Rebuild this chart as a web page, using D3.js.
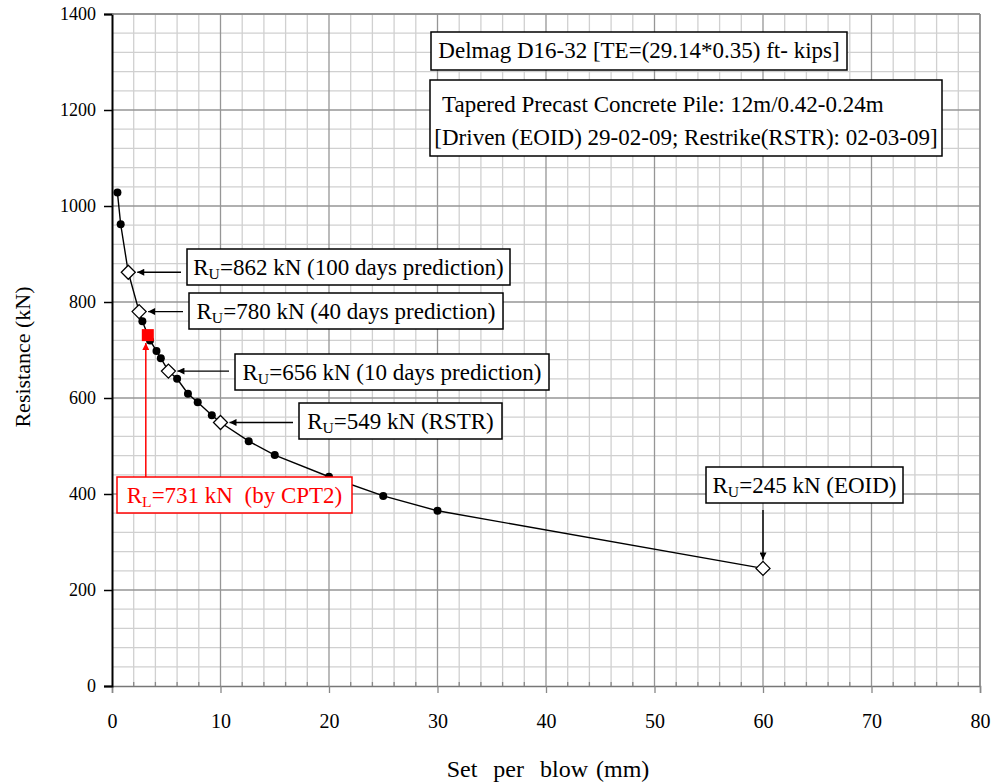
<!DOCTYPE html>
<html>
<head>
<meta charset="utf-8">
<script src="https://cdn.jsdelivr.net/npm/d3@7"></script>
<style>
  html, body { margin: 0; padding: 0; background: #fff; }
  svg { display: block; font-family: "Liberation Serif", "Times New Roman", serif; }
  svg text { font-family: "Liberation Serif", "Times New Roman", serif; }
</style>
</head>
<body>
<svg id="chart" width="995" height="782"></svg>
<script>
// ---- data ----
const setDots = [0.5, 0.8, 2.8, 3.5, 4.1, 4.5, 6.0, 7.0, 7.9, 9.2, 12.6, 15.0, 20.0, 25.0, 30.0];
const resDots = [1028, 962, 760, 720, 698, 683, 640, 609, 591, 564, 510, 481, 436, 396, 365];
const setDiamonds = [1.5, 2.5, 5.2, 10.0, 60.0];
const resDiamonds = [862, 780, 656, 549, 245];
const diamondLabels = ["862 kN (100 days prediction)", "780 kN (40 days prediction)", "656 kN (10 days prediction)", "549 kN (RSTR)", "245 kN (EOID)"];
const cptSet = [3.3];
const cptRes = [731];
const cptLabel = "731 kN  (by CPT2)";
const xTicks = [0, 10, 20, 30, 40, 50, 60, 70, 80];
const yTicks = [0, 200, 400, 600, 800, 1000, 1200, 1400];
const infoLine1 = "Delmag D16-32 [TE=(29.14*0.35) ft- kips]";
const infoLine2 = "Tapered Precast Concrete Pile: 12m/0.42-0.24m";
const infoLine3 = "[Driven (EOID) 29-02-09; Restrike(RSTR): 02-03-09]";

// ---- layout ----
const svg = d3.select("#chart");
const L = 112, R = 980, T = 14, B = 686;
const x = d3.scaleLinear().domain([0, 80]).range([L, R]);
const y = d3.scaleLinear().domain([0, 1400]).range([B, T]);
const SERIF = '"Liberation Serif", "Times New Roman", serif';

// arrow markers
const defs = svg.append("defs");
function marker(id, color) {
  defs.append("marker").attr("id", id).attr("viewBox", "0 0 10 10")
    .attr("refX", 10).attr("refY", 5).attr("markerWidth", 9).attr("markerHeight", 7)
    .attr("markerUnits", "userSpaceOnUse").attr("orient", "auto")
    .append("path").attr("d", "M0,0 L10,5 L0,10 Z").attr("fill", color);
}
marker("arrBlack", "#000");
marker("arrRed", "#ff0000");

// grid
const g = svg.append("g");
const minorX = d3.range(0, 81, 2).filter(v => v % 10 !== 0);
const minorY = d3.range(0, 1401, 40).filter(v => v % 200 !== 0);
g.selectAll(".mx").data(minorX).enter().append("line")
  .attr("x1", d => x(d)).attr("x2", d => x(d)).attr("y1", T).attr("y2", B)
  .attr("stroke", "#d0d0d0").attr("stroke-width", 1.3);
g.selectAll(".my").data(minorY).enter().append("line")
  .attr("x1", L).attr("x2", R).attr("y1", d => y(d)).attr("y2", d => y(d))
  .attr("stroke", "#d0d0d0").attr("stroke-width", 1.3);
g.selectAll(".Mx").data(xTicks.filter(v => v > 0)).enter().append("line")
  .attr("x1", d => x(d)).attr("x2", d => x(d)).attr("y1", T).attr("y2", B)
  .attr("stroke", "#969696").attr("stroke-width", 1.3);
g.selectAll(".My").data(yTicks.filter(v => v > 0)).enter().append("line")
  .attr("x1", L).attr("x2", R).attr("y1", d => y(d)).attr("y2", d => y(d))
  .attr("stroke", "#969696").attr("stroke-width", 1.3);

// axes
const xAxis = d3.axisBottom(x).tickValues(xTicks).tickSize(7).tickFormat(d3.format("d"));
const gx = svg.append("g").attr("transform", `translate(0,${B})`).call(xAxis);
gx.attr("font-family", SERIF).style("font-family", SERIF);
gx.select(".domain").attr("stroke", "#777").attr("stroke-width", 1.5);
gx.selectAll(".tick line").attr("stroke", "#888").attr("stroke-width", 1.3);
gx.selectAll(".tick text").style("font-family", SERIF).attr("font-size", 20)
  .attr("fill", "#000").attr("dy", "1.6em");
// inner minor ticks on x
svg.append("g").selectAll("line").data(minorX).enter().append("line")
  .attr("x1", d => x(d)).attr("x2", d => x(d)).attr("y1", B).attr("y2", B - 4)
  .attr("stroke", "#888").attr("stroke-width", 1.3);

const yAxis = d3.axisLeft(y).tickValues(yTicks).tickSize(8).tickFormat(d3.format("d"));
const gy = svg.append("g").attr("transform", `translate(${L},0)`).call(yAxis);
gy.attr("font-family", SERIF).style("font-family", SERIF);
gy.select(".domain").attr("stroke", "#000").attr("stroke-width", 2);
gy.selectAll(".tick line").attr("stroke", "#000").attr("stroke-width", 1.5);
gy.selectAll(".tick text").style("font-family", SERIF).attr("font-size", 18)
  .attr("fill", "#000").attr("x", -16);
// top/right border
svg.append("line").attr("x1", L).attr("x2", R).attr("y1", T).attr("y2", T).attr("stroke", "#8a8a8a").attr("stroke-width", 1.5);
svg.append("line").attr("x1", R).attr("x2", R).attr("y1", T).attr("y2", B).attr("stroke", "#8a8a8a").attr("stroke-width", 1.5);

// axis titles
svg.append("text").attr("x", 548).attr("y", 777).attr("text-anchor", "middle")
  .attr("font-size", 24).attr("word-spacing", 2).attr("xml:space", "preserve").style("white-space", "pre")
  .text("Set  per  blow (mm)");
svg.append("text").attr("transform", "translate(30,357) rotate(-90)").attr("text-anchor", "middle")
  .attr("font-size", 22).text("Resistance (kN)");

// series line through all points
const linePts = setDots.map((s, i) => [s, resDots[i]])
  .concat(setDiamonds.map((s, i) => [s, resDiamonds[i]]))
  .sort((a, b) => a[0] - b[0]);
svg.append("path").datum(linePts)
  .attr("d", d3.line().x(d => x(d[0])).y(d => y(d[1])))
  .attr("fill", "none").attr("stroke", "#000").attr("stroke-width", 1.4);

svg.append("g").selectAll("circle").data(setDots).enter().append("circle")
  .attr("cx", d => x(d)).attr("cy", (d, i) => y(resDots[i])).attr("r", 4).attr("fill", "#000");

svg.append("g").selectAll("path").data(setDiamonds).enter().append("path")
  .attr("transform", (d, i) => `translate(${x(d)},${y(resDiamonds[i])})`)
  .attr("d", "M0,-7 L7,0 L0,7 L-7,0 Z")
  .attr("fill", "#fff").attr("stroke", "#000").attr("stroke-width", 1.3);

svg.append("g").selectAll("rect").data(cptSet).enter().append("rect")
  .attr("x", d => x(d) - 6).attr("y", (d, i) => y(cptRes[i]) - 6)
  .attr("width", 12).attr("height", 12).attr("fill", "#ff0000");

// ---- annotations ----
// box layout: [left, top, width, height] in px
const boxes = [
  [187, 249, 323, 36],
  [189, 293, 314, 36],
  [235, 354, 314, 36],
  [299, 403, 203, 36],
  [706, 467, 197, 36]
];
function subLabel(sel, main, sub, rest, color) {
  sel.append("tspan").text(main);
  sel.append("tspan").attr("font-size", "0.68em").attr("dy", 4).text(sub);
  sel.append("tspan").attr("dy", -4).text("=" + rest);
  sel.attr("fill", color);
}
boxes.forEach((b, i) => {
  svg.append("rect").attr("x", b[0]).attr("y", b[1]).attr("width", b[2]).attr("height", b[3])
    .attr("fill", "#fff").attr("stroke", "#000").attr("stroke-width", 1.5);
  const t = svg.append("text").attr("x", b[0] + b[2] / 2).attr("y", b[1] + 26)
    .attr("text-anchor", "middle").attr("font-size", 23).attr("xml:space", "preserve").style("white-space", "pre");
  subLabel(t, "R", "U", diamondLabels[i], "#000");
  const px = x(setDiamonds[i]), py = y(resDiamonds[i]);
  if (i < 4) {
    svg.append("line").attr("x1", b[0] - 6).attr("y1", py).attr("x2", px + 9).attr("y2", py)
      .attr("stroke", "#000").attr("stroke-width", 1.4).attr("marker-end", "url(#arrBlack)");
  } else {
    svg.append("line").attr("x1", px).attr("y1", b[1] + b[3] + 7).attr("x2", px).attr("y2", py - 9)
      .attr("stroke", "#000").attr("stroke-width", 1.4).attr("marker-end", "url(#arrBlack)");
  }
});

// CPT annotation
const cb = [117, 477, 235, 36];
svg.append("line").attr("x1", x(cptSet[0]) - 2).attr("x2", x(cptSet[0]) - 2)
  .attr("y1", cb[1]).attr("y2", y(cptRes[0]) + 8)
  .attr("stroke", "#ff0000").attr("stroke-width", 1.5).attr("marker-end", "url(#arrRed)");
svg.append("rect").attr("x", cb[0]).attr("y", cb[1]).attr("width", cb[2]).attr("height", cb[3])
  .attr("fill", "#fff").attr("stroke", "#ff0000").attr("stroke-width", 1.5);
const ct = svg.append("text").attr("x", cb[0] + cb[2] / 2).attr("y", cb[1] + 26)
  .attr("text-anchor", "middle").attr("font-size", 23).attr("xml:space", "preserve").style("white-space", "pre");
subLabel(ct, "R", "L", cptLabel, "#ff0000");

// info boxes
svg.append("rect").attr("x", 431).attr("y", 32).attr("width", 416).attr("height", 38)
  .attr("fill", "#fff").attr("stroke", "#000").attr("stroke-width", 1.5);
svg.append("text").attr("x", 639).attr("y", 58).attr("text-anchor", "middle").attr("font-size", 23).text(infoLine1);
svg.append("rect").attr("x", 430).attr("y", 80).attr("width", 512).attr("height", 76)
  .attr("fill", "#fff").attr("stroke", "#000").attr("stroke-width", 1.5);
svg.append("text").attr("x", 442).attr("y", 112).attr("font-size", 23).text(infoLine2);
svg.append("text").attr("x", 686).attr("y", 145).attr("text-anchor", "middle").attr("font-size", 23).text(infoLine3);
</script>
</body>
</html>
